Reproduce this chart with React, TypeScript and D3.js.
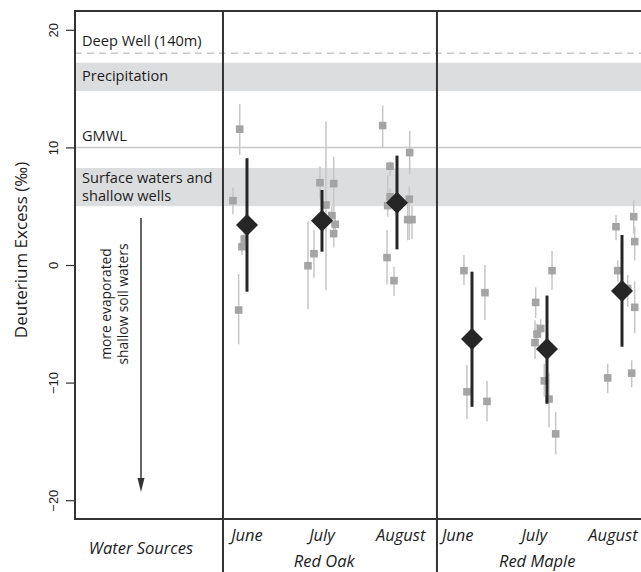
import React, { useEffect, useRef } from 'react';
import * as d3 from 'd3';

// y axis ticks
const yTicks = [-20, -10, 0, 10, 20];

// x categories: Red Oak June..August at 0..2, Red Maple June..August at 3..5
const months = ['June', 'July', 'August', 'June', 'July', 'August'];
const monthLabelPos = [0, 1, 2.05, 2.81, 3.83, 4.88];
const species = ['Red Oak', 'Red Maple'];
const speciesLabelPos = [1.03, 3.87];
const dividerPos = [-0.32, 2.533];
const waterSourcePos = -1.413;

// water source reference values
const deepWell = 18;
const gmwl = 10;
const precipBand = [14.8, 17.2];
const surfaceBand = [5.0, 8.25];
const arrowRange = [4.0, -19.3];

// group means with error bars
const meanValues = [3.4, 3.77, 5.3, -6.3, -7.15, -2.21];
const meanLow = [-2.27, 1.13, 1.33, -12.06, -11.8, -6.95];
const meanHigh = [9.08, 6.38, 9.3, -0.57, -2.6, 2.55];

// individual trees: [x jitter, value, low, high]
const oakJune = [
  [-0.097, 11.55, 9.36, 13.68],
  [-0.187, 5.47, 4.31, 6.58],
  [-0.036, 2.21, 1.5, 3.0],
  [-0.067, 1.56, 0.85, 2.55],
  [-0.111, -3.83, -6.75, -0.77],
];
const oakJuly = [
  [-0.027, 7.0, 5.6, 8.37],
  [0.156, 6.92, 4.54, 9.22],
  [0.053, 5.1, -2.13, 12.2],
  [0.129, 4.2, 3.3, 5.0],
  [0.177, 3.46, 2.4, 4.5],
  [0.156, 2.67, 1.5, 3.7],
  [-0.107, 0.96, -1.08, 2.98],
  [-0.187, -0.06, -3.77, 3.69],
];
const oakAugust = [
  [-0.191, 11.86, 10.0, 13.56],
  [0.169, 9.56, 7.72, 11.4],
  [-0.093, 8.4, 7.6, 8.8],
  [-0.093, 5.8, 5.0, 6.5],
  [-0.124, 5.05, 4.1, 7.66],
  [0.164, 5.59, 2.13, 6.67],
  [0.143, 3.86, 2.1, 5.5],
  [0.2, 3.86, 2.2, 5.0],
  [-0.133, 0.63, -1.65, 2.98],
  [-0.04, -1.33, -2.64, -0.14],
];
const mapleJune = [
  [-0.107, -0.48, -1.7, 0.85],
  [0.173, -2.35, -4.68, 0],
  [-0.067, -10.78, -13.1, -8.5],
  [0.2, -11.6, -13.3, -9.87],
];
const mapleJuly = [
  [0.067, -0.48, -2.1, 1.2],
  [-0.151, -3.18, -4.5, -1.9],
  [-0.084, -5.4, -6.2, -4.6],
  [-0.133, -5.87, -6.8, -5.0],
  [-0.16, -6.6, -8.0, -4.7],
  [-0.036, -9.85, -11.2, -8.4],
  [0.027, -11.4, -13.8, -9.2],
  [0.116, -14.36, -16.1, -12.5],
];
const mapleAugust = [
  [-0.08, 3.26, 2.1, 4.26],
  [0.156, 4.11, 2.7, 5.5],
  [0.169, 1.99, 0.4, 3.25],
  [-0.057, -0.48, -1.4, 0.4],
  [0.076, -2.0, -3.55, -0.85],
  [0.169, -3.6, -5.8, -1.4],
  [-0.191, -9.6, -10.9, -8.4],
  [0.129, -9.2, -10.4, -8.1],
];
const sampleGroups = [oakJune, oakJuly, oakAugust, mapleJune, mapleJuly, mapleAugust];

const W = 641;
const H = 572;
const sans = '"Open Sans", "DejaVu Sans", sans-serif';
const tickFont = '"Liberation Sans", Arial, sans-serif';
const ink = '#1c1c1c';

const App = () => {
  const ref = useRef<SVGSVGElement>(null);

  useEffect(() => {
    if (!ref.current) return;
    const svg = d3.select(ref.current);
    svg.selectAll('*').remove();

    const left = 75, top = 11, bottom = 519, right = 652;
    const x = d3.scaleLinear().domain([-2.293, 5.4]).range([left, right]);
    const y = d3.scaleLinear().domain([-21.6, 21.6]).range([bottom, top]);

    // background bands and reference lines
    [precipBand, surfaceBand].forEach(b => {
      svg.append('rect')
        .attr('x', left).attr('width', right - left)
        .attr('y', y(b[1])).attr('height', y(b[0]) - y(b[1]))
        .attr('fill', '#dcdddf');
    });
    svg.append('line')
      .attr('x1', left).attr('x2', right)
      .attr('y1', y(deepWell)).attr('y2', y(deepWell))
      .attr('stroke', '#c8c8c8').attr('stroke-width', 1.5)
      .attr('stroke-dasharray', '7,5');
    svg.append('line')
      .attr('x1', left).attr('x2', right)
      .attr('y1', y(gmwl)).attr('y2', y(gmwl))
      .attr('stroke', '#c8c8c8').attr('stroke-width', 1.5);

    // water source labels
    const labels: [string, number][] = [
      ['Deep Well (140m)', 46],
      ['Precipitation', 81],
      ['GMWL', 141],
      ['Surface waters and', 183],
      ['shallow wells', 201],
    ];
    labels.forEach(([t, by]) => {
      svg.append('text')
        .attr('x', 82).attr('y', by)
        .style('font-family', sans).style('font-size', '14.6px')
        .attr('fill', ink).text(t);
    });

    // arrow for evaporated soil waters
    const ax = x(waterSourcePos);
    svg.append('line')
      .attr('x1', ax).attr('x2', ax)
      .attr('y1', y(arrowRange[0])).attr('y2', y(arrowRange[1]) - 12)
      .attr('stroke', '#333').attr('stroke-width', 1.5);
    svg.append('path')
      .attr('d', `M${ax - 3.5},${y(arrowRange[1]) - 14}L${ax + 3.5},${y(arrowRange[1]) - 14}L${ax},${y(arrowRange[1])}Z`)
      .attr('fill', '#333');
    ['more evaporated', 'shallow soil waters'].forEach((t, i) => {
      svg.append('text')
        .attr('transform', `translate(${111 + i * 17},304) rotate(-90)`)
        .attr('text-anchor', 'middle')
        .style('font-family', sans).style('font-size', '13.8px')
        .attr('fill', ink).text(t);
    });

    // individual tree error bars and squares
    sampleGroups.forEach((g, gi) => {
      svg.append('g').selectAll('line').data(g).join('line')
        .attr('x1', d => x(gi + d[0])).attr('x2', d => x(gi + d[0]))
        .attr('y1', d => y(d[2])).attr('y2', d => y(d[3]))
        .attr('stroke', '#c6c6c6').attr('stroke-width', 1.5);
    });
    sampleGroups.forEach((g, gi) => {
      svg.append('g').selectAll('rect').data(g).join('rect')
        .attr('x', d => x(gi + d[0]) - 3.8).attr('y', d => y(d[1]) - 3.8)
        .attr('width', 7.6).attr('height', 7.6)
        .attr('fill', '#a4a4a4');
    });

    // means
    const mg = svg.append('g');
    mg.selectAll('line').data(meanValues).join('line')
      .attr('x1', (d, i) => x(i)).attr('x2', (d, i) => x(i))
      .attr('y1', (d, i) => y(meanLow[i])).attr('y2', (d, i) => y(meanHigh[i]))
      .attr('stroke', '#262626').attr('stroke-width', 3);
    mg.selectAll('path').data(meanValues).join('path')
      .attr('d', (d, i) => {
        const cx = x(i), cy = y(d), r = 11;
        return `M${cx},${cy - r}L${cx + r},${cy}L${cx},${cy + r}L${cx - r},${cy}Z`;
      })
      .attr('fill', '#262626');

    // box and dividers
    svg.append('path')
      .attr('d', `M${right},${top}H${left}V${bottom}H${right}`)
      .attr('fill', 'none').attr('stroke', '#333').attr('stroke-width', 2);
    svg.selectAll('line.divider').data(dividerPos).join('line')
      .attr('class', 'divider')
      .attr('x1', d => x(d)).attr('x2', d => x(d))
      .attr('y1', top).attr('y2', H)
      .attr('stroke', '#333').attr('stroke-width', 2);

    // y axis
    const yAxis = svg.append('g')
      .attr('transform', `translate(${left},0)`)
      .call(d3.axisLeft(y).tickValues(yTicks).tickSize(9).tickPadding(0));
    yAxis.select('.domain').remove();
    yAxis.selectAll('.tick line').attr('stroke', '#333').attr('stroke-width', 1.2);
    yAxis.selectAll('.tick text')
      .attr('x', null).attr('dy', null)
      .attr('transform', 'translate(-17,0) rotate(-90)')
      .attr('text-anchor', 'middle')
      .attr('fill', ink)
      .style('font-family', tickFont).style('font-size', '13px');

    svg.append('text')
      .attr('transform', `translate(27,250) rotate(-90)`)
      .attr('text-anchor', 'middle')
      .style('font-family', sans).style('font-size', '17px')
      .attr('fill', ink).text('Deuterium Excess (‰)');

    // x labels
    const italic = (sel: any, size: string) => sel
      .attr('text-anchor', 'middle')
      .style('font-family', sans).style('font-size', size).style('font-style', 'italic')
      .attr('fill', ink);
    svg.append('g').selectAll('text').data(months).join('text')
      .attr('x', (d, i) => x(monthLabelPos[i])).attr('y', 541)
      .call(italic, '16.5px')
      .text(d => d);
    svg.append('g').selectAll('text').data(species).join('text')
      .attr('x', (d, i) => x(speciesLabelPos[i])).attr('y', 567)
      .call(italic, '16.5px')
      .text(d => d);
    svg.append('text')
      .attr('x', x(waterSourcePos)).attr('y', 554)
      .call(italic, '16.5px')
      .text('Water Sources');
  }, []);

  return (
    <svg ref={ref} width={W} height={H}
      style={{ position: 'absolute', left: 0, top: 0, background: '#fff' }} />
  );
};

export default App;
